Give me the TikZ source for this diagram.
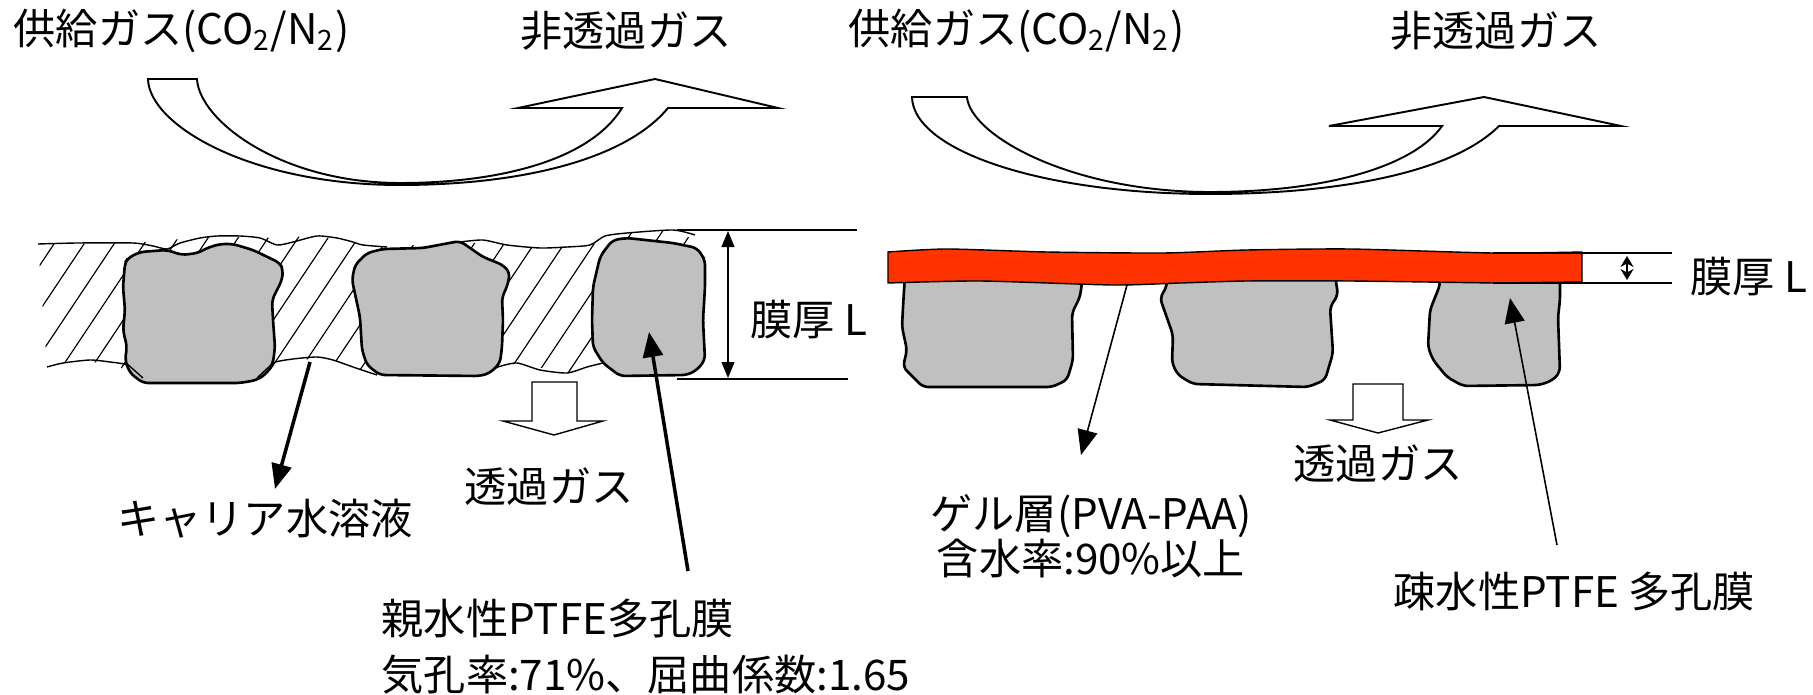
\documentclass[tikz,border=0pt]{standalone}
\usepackage{fontspec}
\setmainfont{Noto Sans CJK JP}
\usetikzlibrary{arrows.meta}
\definecolor{gel}{RGB}{255,51,0}
\definecolor{pore}{RGB}{192,192,192}
\begin{document}
\begin{tikzpicture}[x=0.1mm,y=-0.1mm,
 lbl/.style={font=\fontsize{12pt}{14pt}\selectfont,inner sep=0pt},
 edge/.style={line width=0.4pt},
 hatch/.style={line width=0.35pt},
 flow/.style={draw=black,fill=white,line width=0.55pt},
 grain/.style={draw=black,fill=pore,line width=0.75pt,rounded corners=1.5pt},
 ptr/.style={line width=1pt,-{Triangle[length=2.5mm,width=2mm]}},
 tptr/.style={line width=0.45pt,-{Triangle[length=2.5mm,width=2mm]}},
 dim/.style={line width=0.4pt,{Triangle[length=1.6mm,width=1.3mm]}-{Triangle[length=1.6mm,width=1.3mm]}}]
\useasboundingbox (0,0) rectangle (1813,695);

\begin{scope}
 \clip (38,244) -- (133,243) -- (217,236) -- (260,238) -- (317,236) -- (387,247) -- (460,242)
  -- (540,248) -- (590,245) -- (627,233) -- (673,230) -- (705,245) -- (705,370) -- (603,363)
  -- (567,373) -- (517,363) -- (483,375) -- (377,375) -- (333,360) -- (293,359) -- (255,378)
  -- (140,378) -- (110,362) -- (63,363) -- (47,367) -- cycle;
 \foreach \k in {0,...,26}
  \draw[hatch] (\k*30-110,400) -- ++(120,-180);
\end{scope}
\draw[edge] plot[smooth,tension=0.4] coordinates {(38,244) (77,243) (133,243) (153,246) (167,249)
 (180,243) (200,238) (217,236) (240,236) (260,238) (277,245) (293,242) (317,236) (337,238)
 (353,242) (363,245) (387,247)};
\draw[edge] plot[smooth,tension=0.4] coordinates {(460,242) (483,240) (507,245) (540,248)
 (567,247) (590,245) (605,236) (627,233) (673,230) (695,235)};
\draw[edge] plot[smooth,tension=0.4] coordinates {(47,367) (63,363) (90,360) (110,362) (127,365) (143,378)};
\draw[edge] plot[smooth,tension=0.4] coordinates {(257,378) (273,363) (293,359) (317,357) (333,360) (353,367) (377,375)};
\draw[edge] plot[smooth,tension=0.4] coordinates {(483,375) (498,367) (517,363) (540,370) (567,373) (587,367) (603,363)};

\draw[grain] (125,263) -- (128,258) -- (140,252) -- (167,250) -- (182,255) -- (198,253) -- (207,248)
 -- (220,244) -- (233,244) -- (253,250) -- (280,263) -- (283,270) -- (282,280) -- (272,300)
 -- (273,320) -- (275,347) -- (273,363) -- (267,373) -- (257,380) -- (240,383) -- (143,383)
 -- (130,373) -- (125,360) -- (127,347) -- (123,330) -- (125,310) -- (123,287) -- cycle;
\draw[grain] (367,253) -- (383,249) -- (423,248) -- (460,241) -- (483,257) -- (503,265) -- (510,273)
 -- (507,287) -- (502,297) -- (503,320) -- (502,347) -- (500,363) -- (490,373) -- (480,376)
 -- (380,375) -- (367,365) -- (362,350) -- (360,317) -- (352,280) -- (355,265) -- cycle;
\draw[grain] (607,247) -- (613,240) -- (627,238) -- (673,243) -- (697,248) -- (705,260) -- (705,287)
 -- (703,320) -- (705,360) -- (697,370) -- (687,375) -- (620,376) -- (603,363) -- (593,347)
 -- (592,320) -- (593,287) -- (600,257) -- cycle;
\draw[edge] (125,362) -- (143,378);
\draw[edge] (257,378) -- (272,364);

\draw[edge] (677,230) -- (857,230);
\draw[edge] (677,379) -- (848,379);
\draw[dim] (728,231) -- (728,378);

\draw[grain] (905,275) -- (903,307) -- (902,327) -- (907,350) -- (903,367) -- (923,387) -- (1052,387)
 -- (1067,380) -- (1073,360) -- (1072,313) -- (1080,297) -- (1083,275) -- cycle;
\draw[grain] (1167,275) -- (1167,286) -- (1160,298) -- (1173,335) -- (1172,363) -- (1178,375)
 -- (1193,384) -- (1308,387) -- (1325,380) -- (1333,353) -- (1330,307) -- (1338,295) -- (1335,275) -- cycle;
\draw[grain] (1440,275) -- (1440,285) -- (1430,310) -- (1428,347) -- (1433,360) -- (1447,377)
 -- (1463,386) -- (1540,385) -- (1553,380) -- (1560,372) -- (1558,317) -- (1560,300) -- (1560,275) -- cycle;
\draw[edge,fill=gel] plot[smooth,tension=0.4] coordinates {(888,252) (947,249) (1047,252) (1163,253)
 (1247,250) (1350,249) (1493,253) (1582,252)} -- (1582,282)
 -- plot[smooth,tension=0.4] coordinates {(1493,283) (1350,281) (1247,281) (1180,283) (1113,285)
 (980,281) (888,283)} -- cycle;
\draw[edge] (1493,253) -- (1672,253);
\draw[edge] (1493,283) -- (1672,283);
\draw[line width=0.4pt,{Stealth[length=1.1mm,width=1.3mm]}-{Stealth[length=1.1mm,width=1.3mm]}] (1627,256) -- (1627,280);

\draw[flow] (148,79) -- (197,79) .. controls (199,120) and (280,183) .. (400,183)
 .. controls (500,183) and (590,160) .. (622,108) -- (518,108) -- (655,79) -- (778,108) -- (668,108)
 .. controls (625,160) and (520,185) .. (400,185) .. controls (250,185) and (149,125) .. (148,79) -- cycle;
\draw[flow] (912,97) -- (967,97) .. controls (970,135) and (1070,192) .. (1210,192)
 .. controls (1330,192) and (1415,165) .. (1442,126) -- (1329,126) -- (1484,97) -- (1621,126) -- (1499,126)
 .. controls (1450,175) and (1330,194) .. (1210,194) .. controls (1040,194) and (913,150) .. (912,97) -- cycle;

\draw[edge,fill=white] (532,382) -- (577,382) -- (577,421) -- (603,421) -- (554,435) -- (503,421) -- (532,421) -- cycle;
\draw[edge,fill=white] (1353,384) -- (1403,384) -- (1403,420) -- (1428,420) -- (1378,433) -- (1330,420) -- (1353,420) -- cycle;

\node[lbl,anchor=base west] (feedL) at (13,44) {供給ガス(CO\textsubscript{2}/N\textsubscript{2})};
\node[lbl,anchor=base] (retL) at (626,47) {非透過ガス};
\node[lbl,anchor=base west] (feedR) at (848,44) {供給ガス(CO\textsubscript{2}/N\textsubscript{2})};
\node[lbl,anchor=base] (retR) at (1496,47) {非透過ガス};
\node[lbl,anchor=base west] (thkL) at (750,335) {膜厚 L};
\node[lbl,anchor=base west] (thkR) at (1690,292) {膜厚 L};
\node[lbl,anchor=base] (permL) at (549,502) {透過ガス};
\node[lbl,anchor=base] (permR) at (1378,479) {透過ガス};
\node[lbl,anchor=base] (carrier) at (265,534) {キャリア水溶液};
\node[lbl,anchor=base west] (hydro) at (381,634) {親水性PTFE多孔膜};
\node[lbl,anchor=base west] (hydrodat) at (381,690) {気孔率:71\%、屈曲係数:1.65};
\node[lbl,anchor=base] (gellay) at (1091,529) {ゲル層(PVA-PAA)};
\node[lbl,anchor=base] (geldat) at (1091,574) {含水率:90\%以上};
\node[lbl,anchor=base west] (phob) at (1393,607) {疎水性PTFE 多孔膜};

\coordinate (liqpt) at (310,362);
\coordinate (liqend) at (275,489);
\coordinate (hydend) at (688,571);
\coordinate (hydtip) at (649,332);
\coordinate (gelpt) at (1127,285);
\coordinate (gelend) at (1081,455);
\coordinate (phobend) at (1557,545);
\coordinate (phobtip) at (1510,298);
\draw[ptr] (liqpt) -- (liqend);
\draw[ptr] (hydend) -- (hydtip);
\draw[tptr] (gelpt) -- (gelend);
\draw[tptr] (phobend) -- (phobtip);
\end{tikzpicture}
\end{document}
